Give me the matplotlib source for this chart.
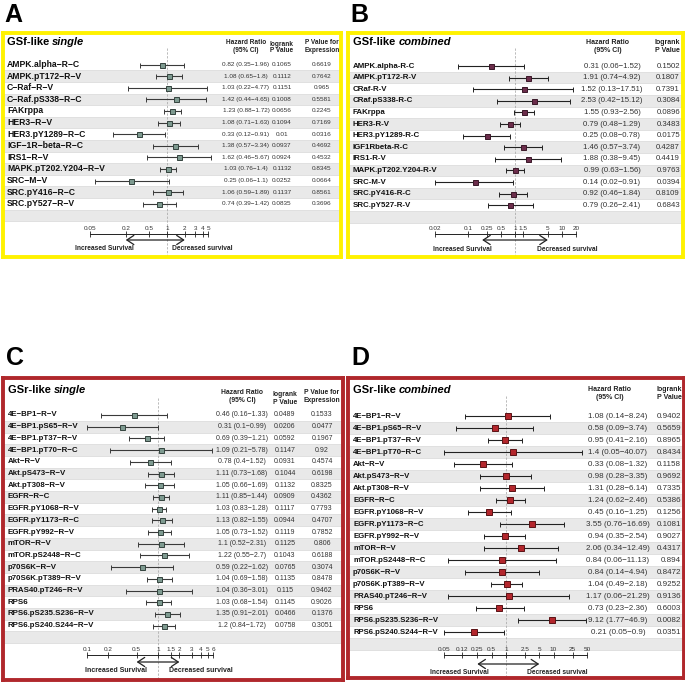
import matplotlib.pyplot as plt
import numpy as np
from matplotlib.transforms import blended_transform_factory
from matplotlib.ticker import FixedLocator, FixedFormatter, NullLocator

plt.rcParams['font.family'] = ['Liberation Sans', 'DejaVu Sans']

W, H = 685, 698

# ---------------------------------------------------------------- data
# A: GSf-like single
a_labels = ['AMPK.alpha−R−C', 'AMPK.pT172−R−V', 'C−Raf−R−V', 'C−Raf.pS338−R−C', 'FAKrppa',
            'HER3−R−V', 'HER3.pY1289−R−C', 'IGF−1R−beta−R−C', 'IRS1−R−V',
            'MAPK.pT202.Y204−R−V', 'SRC−M−V', 'SRC.pY416−R−C', 'SRC.pY527−R−V']
a_hr = [0.82, 1.08, 1.03, 1.42, 1.23, 1.08, 0.33, 1.38, 1.62, 1.03, 0.25, 1.06, 0.74]
a_lo = [0.35, 0.65, 0.22, 0.44, 0.88, 0.71, 0.12, 0.57, 0.46, 0.76, 0.06, 0.59, 0.39]
a_hi = [1.96, 1.8, 4.77, 4.65, 1.72, 1.63, 0.91, 3.34, 5.67, 1.4, 1.1, 1.89, 1.42]
a_logrank = ['0.1065', '0.1112', '0.1151', '0.1008', '0.0656', '0.1094', '0.01', '0.0937',
             '0.0924', '0.1132', '0.0252', '0.1137', '0.0835']
a_pexpr = ['0.6619', '0.7642', '0.965', '0.5581', '0.2245', '0.7169', '0.0316', '0.4692',
           '0.4532', '0.8345', '0.0664', '0.8561', '0.3696']
a_ticks = [0.05, 0.2, 0.5, 1, 2, 3, 4, 5]
a_ticklabels = ['0.05', '0.2', '0.5', '1', '2', '3', '4', '5']

# B: GSf-like combined
b_labels = ['AMPK.alpha-R-C', 'AMPK.pT172-R-V', 'CRaf-R-V', 'CRaf.pS338-R-C', 'FAKrppa',
            'HER3-R-V', 'HER3.pY1289-R-C', 'IGF1Rbeta-R-C', 'IRS1-R-V',
            'MAPK.pT202.Y204-R-V', 'SRC-M-V', 'SRC.pY416-R-C', 'SRC.pY527-R-V']
b_hr = [0.31, 1.91, 1.52, 2.53, 1.55, 0.79, 0.25, 1.46, 1.88, 0.99, 0.14, 0.92, 0.79]
b_lo = [0.06, 0.74, 0.13, 0.42, 0.93, 0.48, 0.08, 0.57, 0.38, 0.63, 0.02, 0.46, 0.26]
b_hi = [1.52, 4.92, 17.51, 15.12, 2.56, 1.29, 0.78, 3.74, 9.45, 1.56, 0.91, 1.84, 2.41]
b_logrank = ['0.1502', '0.1807', '0.7391', '0.3084', '0.0896', '0.3483', '0.0175', '0.4287',
             '0.4419', '0.9763', '0.0394', '0.8109', '0.6843']
b_ticks = [0.02, 0.1, 0.25, 0.5, 1, 1.5, 5, 10, 20]
b_ticklabels = ['0.02', '0.1', '0.25', '0.5', '1', '1.5', '5', '10', '20']

# C: GSr-like single
c_labels = ['4E−BP1−R−V', '4E−BP1.pS65−R−V', '4E−BP1.pT37−R−V', '4E−BP1.pT70−R−C', 'Akt−R−V',
            'Akt.pS473−R−V', 'Akt.pT308−R−V', 'EGFR−R−C', 'EGFR.pY1068−R−V', 'EGFR.pY1173−R−C',
            'EGFR.pY992−R−V', 'mTOR−R−V', 'mTOR.pS2448−R−C', 'p70S6K−R−V', 'p70S6K.pT389−R−V',
            'PRAS40.pT246−R−V', 'RPS6', 'RPS6.pS235.S236−R−V', 'RPS6.pS240.S244−R−V']
c_hr = [0.46, 0.31, 0.69, 1.09, 0.78, 1.11, 1.05, 1.11, 1.03, 1.13, 1.05, 1.1, 1.22, 0.59,
        1.04, 1.04, 1.03, 1.35, 1.2]
c_lo = [0.16, 0.1, 0.39, 0.21, 0.4, 0.73, 0.66, 0.85, 0.83, 0.82, 0.73, 0.52, 0.55, 0.22,
        0.69, 0.36, 0.68, 0.91, 0.84]
c_hi = [1.33, 0.99, 1.21, 5.78, 1.52, 1.68, 1.69, 1.44, 1.28, 1.55, 1.52, 2.31, 2.7, 1.62,
        1.58, 3.01, 1.54, 2.01, 1.72]
c_logrank = ['0.0489', '0.0206', '0.0592', '0.1147', '0.0931', '0.1044', '0.1132', '0.0909',
             '0.1117', '0.0944', '0.1119', '0.1125', '0.1043', '0.0765', '0.1135', '0.115',
             '0.1145', '0.0466', '0.0758']
c_pexpr = ['0.1533', '0.0477', '0.1967', '0.92', '0.4574', '0.6198', '0.8325', '0.4362',
           '0.7793', '0.4707', '0.7852', '0.806', '0.6188', '0.3074', '0.8478', '0.9462',
           '0.9026', '0.1376', '0.3051']
c_ticks = [0.1, 0.2, 0.5, 1, 1.5, 2, 3, 4, 5, 6]
c_ticklabels = ['0.1', '0.2', '0.5', '1', '1.5', '2', '3', '4', '5', '6']

# D: GSr-like combined
d_labels = c_labels
d_hr = [1.08, 0.58, 0.95, 1.4, 0.33, 0.98, 1.31, 1.24, 0.45, 3.55, 0.94, 2.06, 0.84, 0.84,
        1.04, 1.17, 0.73, 9.12, 0.21]
d_lo = [0.14, 0.09, 0.41, 0.05, 0.08, 0.28, 0.28, 0.62, 0.16, 0.76, 0.35, 0.34, 0.06, 0.14,
        0.49, 0.06, 0.23, 1.77, 0.05]
d_hi = [8.24, 3.74, 2.16, 40.07, 1.32, 3.35, 6.14, 2.46, 1.25, 16.69, 2.54, 12.49, 11.13,
        4.94, 2.18, 21.29, 2.36, 46.9, 0.9]
d_logrank = ['0.9402', '0.5659', '0.8965', '0.8434', '0.1158', '0.9692', '0.7335', '0.5386',
             '0.1256', '0.1081', '0.9027', '0.4317', '0.894', '0.8472', '0.9252', '0.9136',
             '0.6003', '0.0082', '0.0351']
d_ticks = [0.05, 0.12, 0.25, 0.5, 1, 2.5, 5, 10, 25, 50]
d_ticklabels = ['0.05', '0.12', '0.25', '0.5', '1', '2.5', '5', '10', '25', '50']

YELLOW = '#FFF200'
RED = '#B0282C'


# ---------------------------------------------------------------- helpers
def px_rect(box):
    l, t, r, b = box
    return [l / W, 1 - b / H, (r - l) / W, (b - t) / H]


def fmt_ci(h, lo, hi):
    return '%g (%g−%g)' % (h, lo, hi)


def draw_panel(lay, labels, hr, lo, hi, logrank, pexpr, ticks, ticklabels):
    l, t, r, b = lay['box']
    n = len(labels)
    hr, lo, hi = np.array(hr), np.array(lo), np.array(hi)

    fax = fig.add_axes(px_rect(lay['box']), zorder=1)
    ax = fig.add_axes(px_rect(lay['box']), zorder=2)
    ax.set_xlim(l, r)
    ax.set_ylim(b, t)
    ax.patch.set_alpha(0)
    ax.set_xticks([])
    ax.set_yticks([])
    for s in ax.spines.values():
        s.set_edgecolor(lay['edge'])
        s.set_linewidth(2.8)

    row0, dy = lay['row0'], lay['dy']

    def row(px):
        return (px - row0) / dy

    # forest axes: log hazard ratio vs row number
    fax.set_xscale('log')
    fax.set_xlim(10 ** ((l - lay['hr1']) / lay['pxd']), 10 ** ((r - lay['hr1']) / lay['pxd']))
    fax.set_ylim(row(b), row(t))
    fax.set_yticks([])
    for side in ['left', 'right', 'bottom']:
        fax.spines[side].set_visible(False)

    for i in range(1, n + 1, 2):
        fax.axhspan(i - 0.5, i + 0.5, facecolor='#E9E9E9', edgecolor='#D2D2D2', lw=0.4, zorder=0)

    fax.vlines(1, row(lay['vtop']), row(b), colors='#A8A8A8', linestyles=(0, (3, 2)),
               lw=0.55, zorder=1)

    y = np.arange(n)
    fax.errorbar(hr, y, xerr=[hr - lo, hi - hr], fmt='s', ms=lay['ms'], mfc=lay['mfc'],
                 mec=lay['mec'], mew=0.7, ecolor=lay['line'], elinewidth=0.8,
                 capsize=1.8, capthick=0.8, zorder=3)

    # bottom scale
    sp = fax.spines['top']
    sp.set_position(('data', row(lay['axis_y'])))
    sp.set_bounds(ticks[0], ticks[-1])
    sp.set_linewidth(0.7)
    sp.set_color('#222222')
    fax.xaxis.set_ticks_position('top')
    fax.xaxis.set_major_locator(FixedLocator(ticks))
    fax.xaxis.set_major_formatter(FixedFormatter(ticklabels))
    fax.xaxis.set_minor_locator(NullLocator())
    fax.tick_params(axis='x', direction='inout', length=4, width=0.6, labelsize=4.6,
                    pad=0.5, colors='#222222', labelcolor='#333333')

    ya = row(lay['arrow_y'])
    fax.annotate('', xy=(lay['arrow'][1], ya), xytext=(lay['arrow'][0], ya),
                 arrowprops=dict(arrowstyle='<->,head_length=0.5,head_width=0.33', lw=0.9,
                                 color='#222222', shrinkA=0, shrinkB=0))

    ax.text(lay['inc_right'], lay['txt_y'], 'Increased Survival', ha='right', va='center',
            fontsize=lay['small'], weight='bold', color='#222222')
    ax.text(lay['dec_left'], lay['txt_y'], 'Decreased survival', ha='left', va='center',
            fontsize=lay['small'], weight='bold', color='#222222')

    # title
    tx, ty = lay['title_xy']
    t1 = ax.text(tx, ty, lay['title'][0], fontsize=8, weight='bold', va='center', ha='left')
    ax.annotate(lay['title'][1], xy=(1, 0), xycoords=t1, va='bottom', ha='left',
                fontsize=8, weight='bold', style='italic')

    # headers
    for hx, hy, lines, ha in lay['headers']:
        for k, txt in enumerate(lines):
            ax.text(hx, hy + k * lay['head_gap'], txt, ha=ha, va='center',
                    fontsize=lay['head_size'], weight='bold', color='#222222')

    # rows of text
    trans = blended_transform_factory(ax.transData, fax.transData)
    for i in range(n):
        ax.text(lay['label_x'], i, labels[i], transform=trans, ha='left', va='center',
                fontsize=lay['label_size'], weight='bold', color='#111111')
        ax.text(lay['hr_x'], i, fmt_ci(hr[i], lo[i], hi[i]), transform=trans, ha='center',
                va='center', fontsize=lay['val_size'], color='#333333')
        ax.text(lay['lr_x'], i, logrank[i], transform=trans, ha=lay['lr_ha'], va='center',
                fontsize=lay['val_size'], color='#333333')
        if pexpr is not None:
            ax.text(lay['pe_x'], i, pexpr[i], transform=trans, ha='center', va='center',
                    fontsize=lay['val_size'], color='#333333')

    lx, ly = lay['letter_xy']
    fig.text(lx / W, 1 - ly / H, lay['letter'], fontsize=18, weight='bold', va='top', ha='left')


# ---------------------------------------------------------------- layout
lay_a = dict(letter='A', letter_xy=(4, 3), box=(3, 33, 341, 257), edge=YELLOW,
             title=('GSf-like ', 'single'), title_xy=(7, 42),
             row0=64.5, dy=11.6, hr1=167, pxd=59, vtop=48,
             axis_y=234, arrow_y=240, arrow=(0.2, 2), txt_y=248, inc_right=134, dec_left=172,
             ms=3.6, mfc='#7E9A90', mec='#34433E', line='#3A3A3A',
             label_x=7, label_size=6.2, val_size=4.6, head_size=4.7, head_gap=7, small=4.8,
             hr_x=246, lr_x=282, lr_ha='center', pe_x=322,
             headers=[(246, 43, ['Hazard Ratio', '(95% CI)'], 'center'),
                      (282, 44, ['logrank', 'P Value'], 'center'),
                      (322, 43, ['P Value for', 'Expression'], 'center')])

lay_b = dict(letter='B', letter_xy=(350, 3), box=(348, 33, 683, 257), edge=YELLOW,
             title=('GSf-like ', 'combined'), title_xy=(353, 42),
             row0=66, dy=11.6, hr1=515, pxd=47, vtop=48,
             axis_y=234, arrow_y=240, arrow=(0.2, 5), txt_y=249, inc_right=492, dec_left=537,
             ms=3.6, mfc='#6B2D4B', mec='#3A1828', line='#222222',
             label_x=353, label_size=5.7, val_size=5.6, head_size=5.0, head_gap=7.5, small=4.8,
             hr_x=612, lr_x=680, lr_ha='right', pe_x=None,
             headers=[(608, 43, ['Hazard Ratio', '(95% CI)'], 'center'),
                      (680, 43, ['logrank', 'P Value'], 'right')])

lay_c = dict(letter='C', letter_xy=(6, 346), box=(3, 378, 343, 680), edge=RED,
             title=('GSr-like ', 'single'), title_xy=(8, 390),
             row0=415, dy=11.7, hr1=158, pxd=71, vtop=398,
             axis_y=655, arrow_y=662, arrow=(0.5, 2), txt_y=671, inc_right=147, dec_left=169,
             ms=3.6, mfc='#7E9A90', mec='#34433E', line='#3A3A3A',
             label_x=8, label_size=5.7, val_size=5.0, head_size=4.9, head_gap=8, small=5.0,
             hr_x=242, lr_x=285, lr_ha='center', pe_x=322,
             headers=[(242, 392, ['Hazard Ratio', '(95% CI)'], 'center'),
                      (285, 395, ['logrank', 'P Value'], 'center'),
                      (322, 392, ['P Value for', 'Expression'], 'center')])

lay_d = dict(letter='D', letter_xy=(351, 346), box=(348, 378, 684, 678), edge=RED,
             title=('GSr-like ', 'combined'), title_xy=(353, 390),
             row0=416, dy=12, hr1=506, pxd=47.6, vtop=396,
             axis_y=655, arrow_y=664, arrow=(0.25, 5), txt_y=673, inc_right=489, dec_left=527,
             ms=4.4, mfc='#B3262C', mec='#5A1215', line='#222222',
             label_x=353, label_size=5.6, val_size=5.8, head_size=5.0, head_gap=8.5, small=4.8,
             hr_x=618, lr_x=681, lr_ha='right', pe_x=None,
             headers=[(610, 389, ['Hazard Ratio', '(95% CI)'], 'center'),
                      (682, 389, ['logrank', 'P Value'], 'right')])

fig = plt.figure(figsize=(W / 100, H / 100), dpi=100)

draw_panel(lay_a, a_labels, a_hr, a_lo, a_hi, a_logrank, a_pexpr, a_ticks, a_ticklabels)
draw_panel(lay_b, b_labels, b_hr, b_lo, b_hi, b_logrank, None, b_ticks, b_ticklabels)
draw_panel(lay_c, c_labels, c_hr, c_lo, c_hi, c_logrank, c_pexpr, c_ticks, c_ticklabels)
draw_panel(lay_d, d_labels, d_hr, d_lo, d_hi, d_logrank, None, d_ticks, d_ticklabels)

fig.savefig('out.png', dpi=100)
